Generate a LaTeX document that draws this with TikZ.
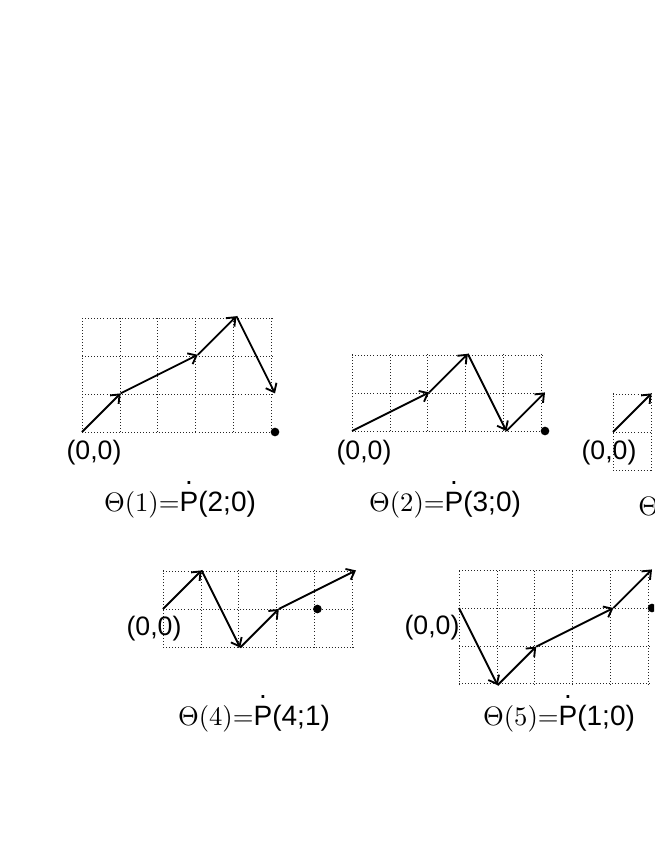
\RequirePackage{fix-cm}
\documentclass[tikz,border=0pt]{standalone}
\usepackage{graphicx}
\usepackage[no-math]{fontspec}
\newfontfamily\hv{Liberation Sans}
\usetikzlibrary{arrows.meta}
\newcommand\dotP{\leavevmode\hbox{\ooalign{P\cr\hidewidth\raisebox{0.98em}{.}\hidewidth\cr}}}
\newcommand\thcap[2]{\scalebox{2}{$\Theta(#1)\mathord{=}$}{\hv\fontsize{21}{25}\selectfont\dotP(#2)}}
\begin{document}
\begin{tikzpicture}[x=0.75pt,y=-0.75pt,
  gridline/.style={line width=0.6pt, dash pattern=on 0.6pt off 1.7pt, black!85},
  walk/.style={line width=1.4pt, -{Straight Barb[length=5.5pt,width=9pt,line width=1.4pt]}},
  enddot/.style={fill=black, circle, inner sep=0pt, minimum size=6.5pt},
  origin/.style={font=\hv\fontsize{20}{24}\selectfont, inner sep=0pt},
  caption/.style={inner sep=0pt}]
\useasboundingbox (0,0) rectangle (654,846);
\clip (0,0) rectangle (654,846);

% ---------- panel 1 ----------
\begin{scope}[shift={(82,432)}, x=28.95pt, y=28.95pt]
  \draw[gridline] (0,0) grid (5,3);
  \coordinate (a0) at (0,0);
  \coordinate (a1) at (1,1);
  \coordinate (a2) at (3,2);
  \coordinate (a3) at (4,3);
  \coordinate (a4) at (5,1);
  \draw[walk] (a0) -- (a1);
  \draw[walk] (a1) -- (a2);
  \draw[walk] (a2) -- (a3);
  \draw[walk] (a3) -- (a4);
  \node[enddot] (ad) at (5,0) {};
\end{scope}
\node[origin] (ao) at (94,453) {(0,0)};
\node[caption] (ac) at (180,505) {\thcap{1}{2;0}};

% ---------- panel 2 ----------
\begin{scope}[shift={(352,431)}, x=28.95pt, y=28.95pt]
  \draw[gridline] (0,0) grid (5,2);
  \coordinate (b0) at (0,0);
  \coordinate (b1) at (2,1);
  \coordinate (b2) at (3,2);
  \coordinate (b3) at (4,0);
  \coordinate (b4) at (5,1);
  \draw[walk] (b0) -- (b1);
  \draw[walk] (b1) -- (b2);
  \draw[walk] (b2) -- (b3);
  \draw[walk] (b3) -- (b4);
  \node[enddot] (bd) at (5,0) {};
\end{scope}
\node[origin] (bo) at (364,453) {(0,0)};
\node[caption] (bc) at (445,505) {\thcap{2}{3;0}};

% ---------- panel 3 (cut by the right edge) ----------
\begin{scope}[shift={(613,432)}, x=28.95pt, y=28.95pt]
  \draw[gridline] (0,-1) grid (1,1);
  \coordinate (c0) at (0,0);
  \coordinate (c1) at (1,1);
  \draw[walk] (c0) -- (c1);
\end{scope}
\node[origin] (co) at (609,453) {(0,0)};
\node[caption, anchor=west] (cc) at (638,506) {\scalebox{2}{$\Theta$}};

% ---------- panel 4 ----------
\begin{scope}[shift={(163,609)}, x=28.95pt, y=28.95pt]
  \draw[gridline] (0,-1) grid (5,1);
  \coordinate (d0) at (0,0);
  \coordinate (d1) at (1,1);
  \coordinate (d2) at (2,-1);
  \coordinate (d3) at (3,0);
  \coordinate (d4) at (5,1);
  \draw[walk] (d0) -- (d1);
  \draw[walk] (d1) -- (d2);
  \draw[walk] (d2) -- (d3);
  \draw[walk] (d3) -- (d4);
  \node[enddot] (dd) at (4,0) {};
\end{scope}
\node[origin] (do) at (154,629) {(0,0)};
\node[caption] (dc) at (254,719) {\thcap{4}{4;1}};

% ---------- panel 5 ----------
\begin{scope}[shift={(459,608)}, x=28.95pt, y=28.95pt]
  \draw[gridline] (0,-2) grid (5,1);
  \coordinate (e0) at (0,0);
  \coordinate (e1) at (1,-2);
  \coordinate (e2) at (2,-1);
  \coordinate (e3) at (4,0);
  \coordinate (e4) at (5,1);
  \draw[walk] (e0) -- (e1);
  \draw[walk] (e1) -- (e2);
  \draw[walk] (e2) -- (e3);
  \draw[walk] (e3) -- (e4);
  \node[enddot] (ed) at (5,0) {};
\end{scope}
\node[origin] (eo) at (432,628) {(0,0)};
\node[caption] (ec) at (559,719) {\thcap{5}{1;0}};
\end{tikzpicture}
\end{document}
